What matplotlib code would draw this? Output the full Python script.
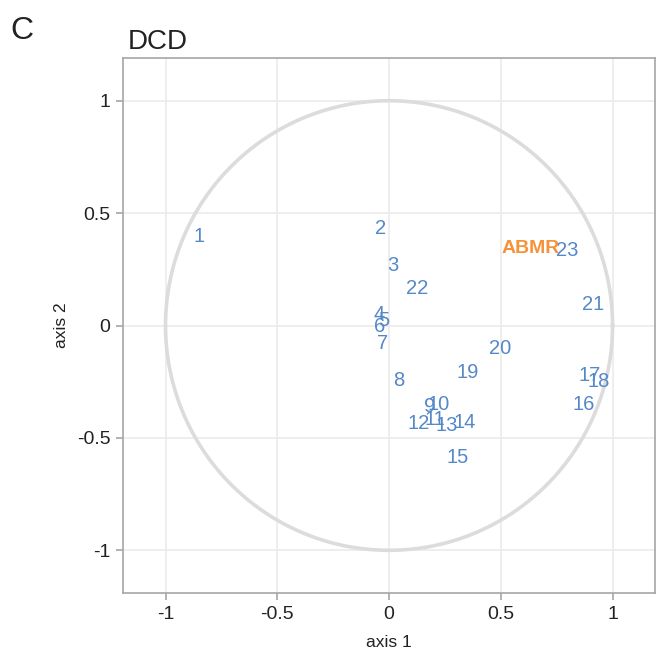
import matplotlib
matplotlib.use("Agg")
import matplotlib.pyplot as plt
import numpy as np

plt.rcParams['font.family'] = ['Liberation Sans', 'DejaVu Sans']

labels = ["1", "2", "3", "4", "5", "6", "7", "8", "9", "10", "11", "12",
          "13", "14", "15", "16", "17", "18", "19", "20", "21", "22", "23"]
axis1 = [-0.85, -0.036, 0.018, -0.045, -0.022, -0.04, -0.027, 0.045, 0.183, 0.223,
         0.205, 0.134, 0.259, 0.339, 0.308, 0.87, 0.897, 0.9375, 0.353, 0.496,
         0.915, 0.125, 0.795]
axis2 = [0.397, 0.433, 0.268, 0.049, 0.022, -0.004, -0.08, -0.246, -0.362, -0.353,
         -0.42, -0.4375, -0.446, -0.433, -0.585, -0.353, -0.223, -0.25, -0.21, -0.103,
         0.094, 0.165, 0.335]
group_label = "ABMR"
group_x = 0.634
group_y = 0.344
ticks = [-1, -0.5, 0, 0.5, 1]
tick_labels = ["-1", "-0.5", "0", "0.5", "1"]

fig = plt.figure(figsize=(6.59, 6.57), dpi=100)
ax = fig.add_axes([0.1867, 0.0974, 0.8073, 0.8143])
ax.set_xlim(-1.19, 1.19)
ax.set_ylim(-1.19, 1.19)

ax.set_xticks(ticks)
ax.set_xticklabels(tick_labels)
ax.set_yticks(ticks)
ax.set_yticklabels(tick_labels)
ax.grid(True, color="#ebebeb", linewidth=1.2)
ax.set_axisbelow(True)
for s in ax.spines.values():
    s.set_color("#a6a6a6")
    s.set_linewidth(1.2)
ax.tick_params(axis="both", colors="#a6a6a6", labelcolor="#222222",
               length=5, width=1.2, labelsize=14, pad=4)

theta = np.linspace(0, 2 * np.pi, 400)
ax.plot(np.cos(theta), np.sin(theta), color="#dcdcdc", linewidth=2.6, zorder=2)

for lab, x, y in zip(labels, axis1, axis2):
    ax.text(x, y, lab, color="#5588c8", fontsize=14.5, ha="center", va="center", zorder=3)
ax.text(group_x, group_y, group_label, color="#f5923a", fontsize=14,
        fontweight="bold", ha="center", va="center", zorder=3)

ax.set_xlabel("axis 1", fontsize=12.5, color="#222222", labelpad=9)
ax.set_ylabel("axis 2", fontsize=12.5, color="#222222", labelpad=6)
ax.text(0.008, 1.006, "DCD", transform=ax.transAxes, fontsize=20,
        color="#222222", ha="left", va="bottom")
fig.text(0.015, 0.94, "C", fontsize=23, color="#222222")

fig.savefig("out.png", dpi=100)
